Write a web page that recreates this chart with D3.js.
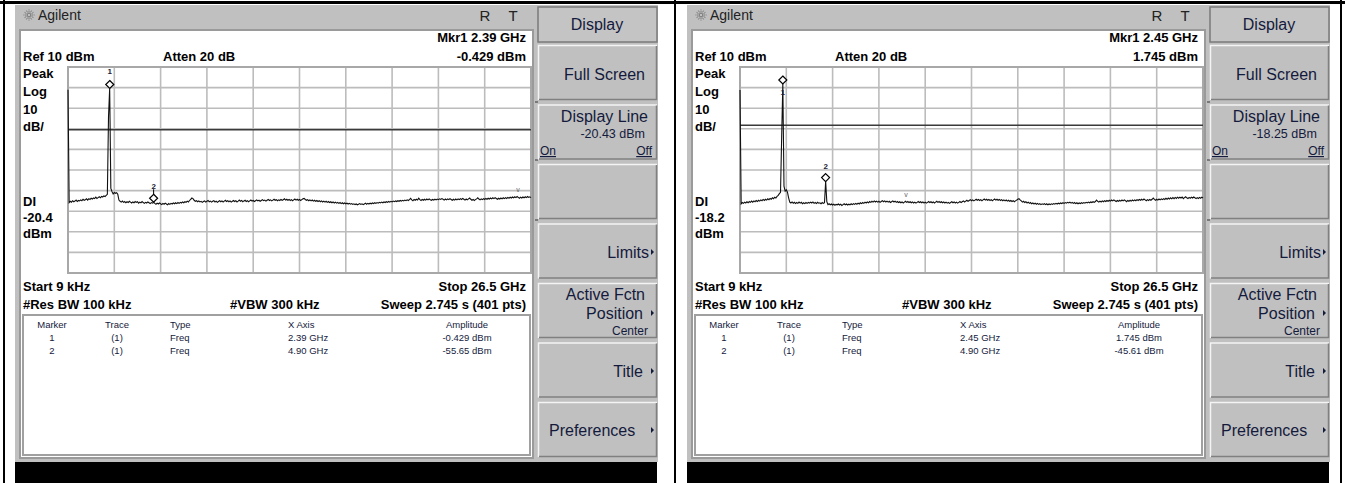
<!DOCTYPE html>
<html>
<head>
<meta charset="utf-8">
<script src="https://cdn.jsdelivr.net/npm/d3@7/dist/d3.min.js"></script>
<style>
body { margin: 0; background: #fff; }
svg { display: block; }
text { font-family: Arial, "Liberation Sans", sans-serif; }
</style>
</head>
<body>
<div id="chart"></div>
<script>
// sweep settings shared by both screens
var startGHz = 0.000009
var stopGHz = 26.5
var refLevel = 10
var dbPerDiv = 10
var divisions = 10

// trace 1, left screen (401 pts)
var traceLeft = [
  -1.0,-55.8,-55.2,-55.6,-54.9,-55.4,-55.1,-54.6,-55.3,-54.8,-55.0,-54.5,-54.9,-54.2,-54.7,-54.4,-54.0,-54.6,-53.9,-54.3,
  -53.7,-54.1,-53.6,-53.9,-53.2,-53.8,-53.4,-53.0,-53.5,-52.8,-53.1,-52.6,-52.9,-52.3,-51.8,-14.0,-0.429,-48.8,-50.5,-51.6,
  -50.9,-51.3,-51.0,-51.8,-54.6,-55.2,-55.6,-55.1,-55.7,-55.3,-55.9,-55.4,-55.8,-55.2,-55.6,-56.0,-55.5,-55.9,-55.3,-55.7,
  -55.4,-56.1,-55.6,-55.9,-55.3,-55.8,-56.2,-55.7,-56.0,-55.5,-55.9,-56.3,-55.8,-56.1,-55.65,-56.2,-56.6,-56.1,-56.5,-56.0,
  -56.4,-56.8,-56.2,-56.6,-56.1,-56.5,-56.9,-56.3,-56.7,-56.2,-56.5,-56.0,-56.4,-55.9,-56.3,-55.8,-56.2,-55.7,-56.0,-55.5,
  -55.9,-55.4,-55.7,-55.1,-55.5,-54.8,-54.2,-53.6,-53.9,-54.7,-55.2,-54.9,-55.4,-55.0,-55.5,-55.2,-55.7,-55.3,-55.0,-55.6,
  -55.2,-54.8,-55.4,-55.1,-55.6,-55.2,-54.9,-55.5,-55.1,-55.7,-55.3,-54.9,-55.4,-55.0,-55.5,-55.1,-54.7,-55.3,-54.9,-55.4,
  -55.0,-55.6,-55.2,-54.8,-55.3,-54.9,-55.5,-55.1,-54.6,-55.2,-54.8,-55.4,-55.0,-54.7,-55.3,-54.9,-55.4,-55.0,-54.6,-55.1,
  -54.8,-55.3,-54.9,-54.5,-55.0,-54.7,-55.2,-54.8,-54.4,-54.9,-54.6,-55.1,-54.7,-54.3,-54.8,-54.5,-55.0,-54.6,-54.2,-54.7,
  -54.4,-54.9,-54.5,-54.8,-54.3,-54.7,-54.4,-54.0,-54.6,-54.2,-54.7,-54.3,-54.8,-54.4,-54.9,-54.5,-54.1,-54.6,-54.2,-54.7,
  -54.3,-54.8,-54.4,-54.0,-53.8,-54.3,-54.7,-54.4,-54.9,-54.5,-55.0,-54.6,-55.1,-54.7,-55.2,-54.8,-55.3,-54.9,-55.4,-55.0,
  -55.5,-55.1,-55.6,-55.2,-55.7,-55.3,-55.8,-55.4,-55.9,-55.5,-56.0,-55.6,-56.1,-55.7,-56.2,-55.8,-56.3,-55.9,-56.4,-56.0,
  -56.4,-56.1,-56.5,-56.2,-56.6,-56.3,-56.7,-56.4,-56.8,-56.5,-56.9,-56.6,-56.3,-56.7,-56.4,-56.8,-56.5,-56.1,-56.6,-56.2,
  -56.5,-56.1,-56.4,-56.0,-56.3,-55.9,-56.2,-55.8,-56.1,-55.7,-56.0,-55.6,-55.9,-55.5,-55.8,-55.4,-55.7,-55.3,-55.6,-55.2,
  -55.5,-55.1,-55.4,-55.0,-55.3,-54.9,-55.2,-54.8,-55.1,-54.7,-55.0,-54.6,-54.9,-54.5,-54.8,-54.4,-53.8,-54.5,-54.9,-54.3,
  -54.7,-54.2,-54.6,-53.7,-54.4,-54.8,-54.3,-54.7,-54.2,-54.6,-54.1,-54.5,-54.0,-54.4,-54.7,-54.3,-54.6,-54.2,-54.5,-54.1,
  -54.4,-54.0,-54.3,-53.9,-54.2,-54.6,-54.1,-54.5,-54.0,-54.4,-53.9,-54.3,-54.7,-54.2,-54.6,-54.1,-54.5,-54.0,-54.4,-53.9,
  -54.3,-53.8,-54.2,-54.6,-54.1,-54.5,-54.0,-53.6,-54.2,-54.7,-54.3,-54.8,-54.4,-54.0,-53.5,-54.1,-54.5,-54.0,-54.4,-53.9,
  -54.3,-53.8,-54.2,-53.7,-54.1,-53.6,-54.0,-53.5,-53.9,-53.4,-53.8,-54.2,-53.7,-54.1,-53.6,-54.0,-53.5,-53.9,-53.4,-53.8,
  -53.3,-53.7,-53.2,-53.6,-53.1,-53.5,-53.0,-53.4,-52.9,-53.3,-53.7,-53.2,-53.6,-53.1,-53.5,-53.0,-53.4,-52.9,-53.3,-53.0,-53.4
]

// trace 1, right screen (401 pts)
var traceRight = [
  -1.2,-56.4,-55.8,-56.2,-55.6,-56.0,-55.4,-55.9,-55.3,-55.7,-55.1,-55.6,-55.0,-55.4,-54.8,-55.3,-54.7,-55.1,-54.5,-54.9,
  -54.3,-54.8,-54.2,-54.6,-54.0,-54.4,-53.8,-54.2,-53.5,-53.9,-53.2,-53.6,-52.8,-52.3,-51.5,-50.8,-24.0,1.745,-47.8,-50.2,
  -49.6,-50.8,-53.5,-55.6,-56.0,-55.5,-56.1,-55.7,-56.3,-55.8,-56.2,-55.6,-56.1,-55.7,-56.4,-55.9,-56.3,-55.8,-56.2,-55.7,
  -56.1,-55.6,-56.0,-55.5,-56.2,-55.8,-56.3,-55.7,-56.1,-55.9,-56.4,-55.8,-56.2,-55.9,-45.61,-55.4,-56.8,-56.4,-56.9,-56.5,
  -57.0,-56.6,-57.1,-56.7,-56.9,-56.5,-57.0,-56.6,-57.2,-56.8,-56.4,-56.9,-56.5,-57.0,-56.6,-56.9,-56.4,-56.8,-56.3,-56.7,
  -56.2,-56.6,-56.1,-56.5,-55.9,-56.3,-55.8,-56.2,-55.6,-56.0,-55.5,-55.9,-55.3,-55.7,-55.2,-55.6,-55.0,-55.5,-55.1,-55.6,
  -55.2,-55.7,-55.3,-54.9,-55.4,-55.0,-55.5,-55.1,-55.6,-55.2,-55.8,-55.4,-55.0,-55.5,-55.1,-55.7,-55.3,-55.8,-55.4,-55.9,
  -55.5,-56.0,-55.6,-55.2,-55.7,-55.3,-55.8,-55.4,-55.9,-55.5,-56.0,-55.6,-56.1,-55.7,-55.3,-55.8,-55.4,-55.9,-55.5,-56.0,
  -55.6,-56.1,-55.7,-55.3,-55.8,-55.4,-55.9,-55.5,-56.0,-55.6,-55.2,-55.7,-55.3,-55.8,-55.4,-55.9,-55.5,-56.0,-55.6,-56.1,
  -55.7,-56.2,-55.8,-55.4,-55.9,-55.5,-56.0,-55.6,-56.1,-55.7,-55.3,-55.8,-55.4,-55.0,-55.5,-55.1,-54.7,-55.2,-54.8,-54.4,
  -54.9,-54.5,-55.0,-54.6,-54.2,-54.7,-54.3,-54.8,-54.4,-54.9,-54.5,-54.1,-54.6,-54.2,-54.7,-54.3,-54.8,-54.4,-54.9,-54.5,
  -54.1,-54.6,-54.2,-54.7,-54.3,-54.8,-54.4,-54.9,-54.5,-55.0,-54.6,-55.1,-54.7,-55.2,-54.8,-55.3,-54.9,-55.4,-55.0,-54.6,
  -54.2,-53.9,-54.5,-55.0,-55.6,-55.2,-55.8,-55.4,-56.0,-55.6,-56.2,-55.8,-56.4,-56.0,-56.5,-56.1,-56.6,-56.2,-56.7,-56.3,
  -56.8,-56.4,-56.7,-56.3,-56.8,-56.4,-56.9,-56.5,-56.8,-56.4,-56.7,-56.3,-56.6,-56.2,-56.5,-56.1,-56.4,-56.0,-56.3,-55.9,
  -56.2,-55.8,-56.1,-55.7,-56.0,-55.6,-56.1,-55.7,-56.2,-55.8,-56.3,-55.9,-56.4,-56.0,-56.3,-55.9,-56.2,-55.8,-56.1,-55.7,
  -56.0,-55.6,-55.9,-55.5,-55.8,-55.4,-55.7,-55.3,-54.6,-55.2,-55.6,-55.1,-55.5,-55.0,-55.4,-54.9,-55.3,-54.8,-55.2,-54.7,
  -55.1,-54.6,-55.0,-54.5,-54.9,-55.3,-54.8,-55.2,-54.7,-55.1,-54.6,-55.0,-54.5,-54.9,-55.4,-54.8,-55.2,-54.7,-55.1,-54.6,
  -55.0,-54.5,-54.9,-54.4,-54.8,-54.3,-54.7,-54.2,-54.6,-54.1,-54.5,-54.9,-54.4,-54.8,-54.3,-54.7,-54.2,-53.6,-54.3,-54.7,
  -54.2,-54.6,-54.1,-54.5,-54.0,-54.4,-53.9,-54.3,-53.7,-54.2,-53.6,-54.1,-53.5,-54.0,-53.4,-53.9,-53.3,-53.8,-53.2,-53.7,
  -53.2,-53.6,-53.1,-53.9,-53.4,-53.0,-53.5,-53.9,-53.3,-53.7,-53.2,-53.6,-53.1,-53.5,-53.9,-53.4,-53.8,-53.3,-53.7,-53.2,-53.6
]

// markers
var markerIds = ['1', '2']
var markerFreqLeft = [2.39, 4.90]
var markerAmpLeft = [-0.429, -55.65]
var markerFreqRight = [2.45, 4.90]
var markerAmpRight = [1.745, -45.61]

// marker table
var tableHeads = ['Marker', 'Trace', 'Type', 'X Axis', 'Amplitude']
var xAxisLeft = ['2.39 GHz', '4.90 GHz']
var ampLeft = ['-0.429 dBm', '-55.65 dBm']
var xAxisRight = ['2.45 GHz', '4.90 GHz']
var ampRight = ['1.745 dBm', '-45.61 dBm']

// display line
var displayLineLeft = -20.43
var displayLineRight = -18.25

var W = 1345, H = 483
var ink = '#141a3c'

var svg = d3.select('#chart')
    .append('svg')
    .attr('width', W)
    .attr('height', H)

svg.append('rect').attr('width', W).attr('height', H).attr('fill', '#fff')

function bevel(g, x, y, w, h) {
    g.append('rect').attr('x', x).attr('y', y).attr('width', w).attr('height', h).attr('fill', '#c0c0c0')
    g.append('path').attr('d', `M${x + 0.5},${y + h} V${y + 0.5} H${x + w}`)
        .attr('fill', 'none').attr('stroke', '#f4f4f4').attr('stroke-width', 1.5)
    g.append('path').attr('d', `M${x + 1},${y + h - 0.5} H${x + w - 0.5} V${y + 1}`)
        .attr('fill', 'none').attr('stroke', '#808080').attr('stroke-width', 1.5)
}

function arrow(g, x, y) {
    g.append('path').attr('d', `M${x},${y - 3} L${x + 3},${y} L${x},${y + 3} Z`).attr('fill', ink)
}

function txt(g, x, y, s, size, anchor, weight, color) {
    return g.append('text')
        .attr('x', x).attr('y', y)
        .attr('font-size', size)
        .attr('text-anchor', anchor || 'start')
        .attr('font-weight', weight || 'normal')
        .attr('fill', color || ink)
        .text(s)
}

function drawPanel(ox, p) {
    var g = svg.append('g').attr('transform', `translate(${ox},0)`)

    // instrument screen background
    g.append('rect').attr('x', 15).attr('y', 5).attr('width', 643).attr('height', 457).attr('fill', '#c0c0c0')

    // header with logo
    var logo = g.append('g').attr('transform', 'translate(29,15)')
    d3.range(12).forEach(k => {
        var a = k * Math.PI / 6
        logo.append('line')
            .attr('x1', Math.cos(a) * 1.5).attr('y1', Math.sin(a) * 1.5)
            .attr('x2', Math.cos(a) * 5.5).attr('y2', Math.sin(a) * 5.5)
            .attr('stroke', '#444').attr('stroke-width', 0.8).attr('stroke-dasharray', '1,0.8')
    })
    txt(g, 38, 20, 'Agilent', 14, 'start', 'normal', '#222')
    txt(g, 485, 21, 'R', 15, 'middle', 'normal', '#222')
    txt(g, 513, 21, 'T', 15, 'middle', 'normal', '#222')

    // white display area
    g.append('rect').attr('x', 20).attr('y', 30).attr('width', 513).attr('height', 428)
        .attr('fill', '#fff').attr('stroke', '#9a9a9a').attr('stroke-width', 2)
    // little ticks next to softkeys
    ;[102, 160, 220].forEach(t => {
        g.append('line').attr('x1', 535).attr('x2', 538).attr('y1', t).attr('y2', t)
            .attr('stroke', '#333').attr('stroke-width', 1)
    })

    txt(g, 526, 42, p.mkr, 13, 'end', 'bold', '#000')
    txt(g, 23, 61, 'Ref 10 dBm', 13, 'start', 'bold', '#000')
    txt(g, 163, 61, 'Atten 20 dB', 13, 'start', 'bold', '#000')
    txt(g, 526, 61, p.mkrAmp, 13, 'end', 'bold', '#000')

    ;[['Peak', 78], ['Log', 96], ['10', 114], ['dB/', 131], ['DI', 206], [p.dl, 222], ['dBm', 238]].forEach(d => {
        txt(g, 23, d[1], d[0], 13, 'start', 'bold', '#000')
    })

    // grid
    var gx0 = 68, gx1 = 531, gy0 = 67, gy1 = 273
    var x = d3.scaleLinear().domain([startGHz, stopGHz]).range([gx0, gx1])
    var y = d3.scaleLinear().domain([refLevel - dbPerDiv * divisions, refLevel]).range([gy1, gy0])
    var xDiv = d3.scaleLinear().domain([0, divisions]).range([gx0, gx1])

    var grid = g.append('g')
    grid.selectAll('.vl').data(d3.range(1, divisions)).enter().append('line')
        .attr('x1', d => xDiv(d)).attr('x2', d => xDiv(d)).attr('y1', gy0).attr('y2', gy1)
        .attr('stroke', '#bcbcbc').attr('stroke-width', 1.6)
    grid.selectAll('.hl').data(y.ticks(divisions).filter(d => d > y.domain()[0] && d < refLevel)).enter().append('line')
        .attr('x1', gx0).attr('x2', gx1).attr('y1', d => y(d)).attr('y2', d => y(d))
        .attr('stroke', '#bcbcbc').attr('stroke-width', 1.6)
    grid.append('rect').attr('x', gx0).attr('y', gy0).attr('width', gx1 - gx0).attr('height', gy1 - gy0)
        .attr('fill', 'none').attr('stroke', '#a8a8a8').attr('stroke-width', 2)

    // display line
    g.append('line').attr('x1', gx0).attr('x2', gx1)
        .attr('y1', y(p.displayLine)).attr('y2', y(p.displayLine))
        .attr('stroke', '#3a3a3a').attr('stroke-width', 1.5)

    // trace
    var n = p.trace.length
    var freq = i => startGHz + i * (stopGHz - startGHz) / (n - 1)
    var line = d3.line().x((d, i) => x(freq(i))).y(d => y(d))
    g.append('path').datum(p.trace).attr('d', line)
        .attr('fill', 'none').attr('stroke', '#111').attr('stroke-width', 1.1)

    // markers
    p.mf.forEach((f, i) => {
        var mx = x(f), my = y(p.ma[i])
        g.append('path')
            .attr('d', `M${mx},${my - 8} L${mx + 4},${my - 4} L${mx},${my} L${mx - 4},${my - 4} Z`)
            .attr('fill', '#fff').attr('stroke', '#000').attr('stroke-width', 1.2)
        if (p.stem[i]) {
            g.append('line').attr('x1', mx).attr('x2', mx).attr('y1', my + p.labelDy[i] + 3).attr('y2', my - 8)
                .attr('stroke', '#000').attr('stroke-width', 1)
        }
        txt(g, mx, my + p.labelDy[i] + 3, markerIds[i], 8, 'middle', 'bold', '#223')
    })
    txt(g, p.vmark[0], p.vmark[1], 'v', 7, 'middle', 'normal', '#666')

    // settings lines
    txt(g, 23, 291, 'Start 9 kHz', 13, 'start', 'bold', '#000')
    txt(g, 526, 291, 'Stop 26.5 GHz', 13, 'end', 'bold', '#000')
    txt(g, 23, 309, '#Res BW 100 kHz', 13, 'start', 'bold', '#000')
    txt(g, 230, 309, '#VBW 300 kHz', 13, 'start', 'bold', '#000')
    txt(g, 526, 309, 'Sweep 2.745 s (401 pts)', 13, 'end', 'bold', '#000')

    // marker table
    g.append('rect').attr('x', 23).attr('y', 315).attr('width', 507).attr('height', 140)
        .attr('fill', '#fff').attr('stroke', '#a0a0a0').attr('stroke-width', 2)
    var colX = [52, 117, 170, 288, 467]
    var colA = ['middle', 'middle', 'start', 'start', 'middle']
    tableHeads.forEach((h, c) => txt(g, colX[c], 328, h, 9.5, colA[c], 'normal', ink))
    markerIds.forEach((m, r) => {
        var yy = 340.5 + r * 13
        txt(g, colX[0], yy, m, 9.5, colA[0])
        txt(g, colX[1], yy, '(1)', 9.5, colA[1])
        txt(g, colX[2], yy, 'Freq', 9.5, colA[2])
        txt(g, colX[3], yy, p.xa[r], 9.5, colA[3])
        txt(g, colX[4], yy, p.am[r], 9.5, colA[4])
    })

    // softkeys
    g.append('rect').attr('x', 538).attr('y', 7).attr('width', 119).attr('height', 35)
        .attr('fill', '#c4c4c4').attr('stroke', '#7a7a7a').attr('stroke-width', 1.5)
    txt(g, 597, 30, 'Display', 16, 'middle')
    var tops = [45, 104.5, 164, 223.5, 283, 342.5, 402]
    tops.forEach(t => bevel(g, 538, t, 119, 55))

    txt(g, 645, 80, 'Full Screen', 16, 'end')
    txt(g, 648, 122, 'Display Line', 16, 'end')
    txt(g, 645, 138, p.dlKey, 12.5, 'end')
    txt(g, 540, 155, 'On', 12, 'start').attr('text-decoration', 'underline')
    txt(g, 652, 155, 'Off', 12, 'end').attr('text-decoration', 'underline')
    txt(g, 649, 258, 'Limits', 16, 'end')
    arrow(g, 651, 252)
    txt(g, 645, 300, 'Active Fctn', 16, 'end')
    txt(g, 643, 319, 'Position', 16, 'end')
    arrow(g, 651, 313)
    txt(g, 648, 335, 'Center', 12, 'end')
    txt(g, 643, 377, 'Title', 16, 'end')
    arrow(g, 651, 371)
    txt(g, 549, 436, 'Preferences', 16, 'start')
    arrow(g, 651, 430)

    // status bar
    g.append('rect').attr('x', 15).attr('y', 462).attr('width', 642).attr('height', 21).attr('fill', '#000')
}

drawPanel(0, {
    mkr: 'Mkr1  2.39 GHz', mkrAmp: '-0.429 dBm', dl: '-20.4', dlKey: '-20.43 dBm',
    displayLine: displayLineLeft, trace: traceLeft,
    mf: markerFreqLeft, ma: markerAmpLeft, labelDy: [-17, -16], stem: [false, true],
    xa: xAxisLeft, am: ampLeft, vmark: [518, 192]
})
drawPanel(672, {
    mkr: 'Mkr1  2.45 GHz', mkrAmp: '1.745 dBm', dl: '-18.2', dlKey: '-18.25 dBm',
    displayLine: displayLineRight, trace: traceRight,
    mf: markerFreqRight, ma: markerAmpRight, labelDy: [8, -16], stem: [false, false],
    xa: xAxisRight, am: ampRight, vmark: [234, 197]
})

// outer frame
svg.append('rect').attr('x', 0).attr('y', 1).attr('width', W).attr('height', 3).attr('fill', '#000')
;[3, 674, 1340].forEach(v => {
    svg.append('rect').attr('x', v).attr('y', 0).attr('width', 2).attr('height', H).attr('fill', '#000')
})
</script>
</body>
</html>
